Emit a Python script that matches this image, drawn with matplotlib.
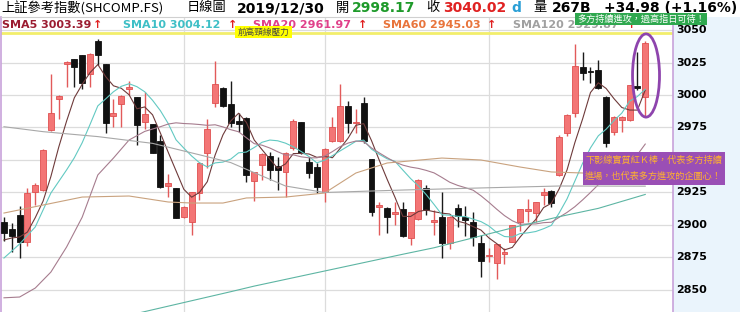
import numpy as np
import pandas as pd
import matplotlib
matplotlib.use("Agg")
import matplotlib.pyplot as plt
from matplotlib.patches import Rectangle, Ellipse

# SHCOMP daily candles up to 2019/12/30
opens = [2902.5, 2896.9, 2907.7, 2887.2, 2925.6, 2926.9, 2973.1, 2996.7, 3024.1, 3027.5,
         3030.5, 3016.2, 3041.8, 3023.8, 2984.1, 2993.1, 3004.6, 2998.2, 2979.5, 2977.5,
         2964.6, 2930.0, 2928.2, 2905.9, 2902.5, 2924.4, 2955.2, 2994.1, 3005.6, 2992.8,
         2980.2, 2982.5, 2934.1, 2946.2, 2953.1, 2945.4, 2940.5, 2959.0, 2979.0, 2948.7,
         2944.8, 2925.2, 2964.8, 2964.8, 2991.5, 2978.5, 2994.1, 2950.5, 2913.6, 2913.3,
         2908.5, 2912.1, 2890.2, 2904.4, 2928.2, 2902.5, 2906.4, 2885.9, 2912.8, 2905.9,
         2902.5, 2886.4, 2875.8, 2870.5, 2877.7, 2887.2, 2902.5, 2910.8, 2909.5, 2923.1,
         2926.4, 2938.5, 2970.5, 2985.9, 3021.8, 3018.8, 3019.2, 2998.7, 2971.8, 2980.8,
         2980.8, 3006.9, 2998.17]
highs = [2906.4, 2901.5, 2914.6, 2928.5, 2932.3, 2958.5, 3016.2, 3000.0, 3026.2, 3027.8,
         3030.8, 3032.5, 3042.8, 3024.0, 2996.7, 2999.7, 3011.0, 2998.4, 3002.5, 2978.0,
         2969.2, 2939.2, 2928.5, 2914.5, 2925.5, 2948.5, 2981.5, 3026.4, 3006.0, 3010.8,
         2986.4, 2983.0, 2941.0, 2955.0, 2956.4, 2952.5, 2956.4, 2981.3, 2979.5, 2952.5,
         2947.7, 2959.0, 2982.8, 3008.5, 2995.6, 2989.0, 2998.7, 2951.0, 2917.9, 2913.5,
         2917.9, 2917.9, 2910.0, 2935.0, 2930.8, 2911.5, 2925.2, 2907.0, 2915.9, 2914.6,
         2910.2, 2892.3, 2882.3, 2885.5, 2882.3, 2900.3, 2912.6, 2920.0, 2918.0, 2928.2,
         2926.8, 2969.2, 2985.0, 3039.2, 3033.3, 3021.8, 3026.9, 2999.0, 2984.0, 2984.0,
         3008.0, 3033.3, 3041.4]
lows = [2887.7, 2879.2, 2874.6, 2884.1, 2915.4, 2926.0, 2972.5, 2981.5, 3006.4, 3005.9,
        3004.4, 3005.9, 3023.1, 2970.5, 2975.6, 2975.6, 3000.0, 2961.5, 2973.8, 2955.0,
        2928.8, 2921.3, 2905.0, 2905.5, 2892.3, 2919.2, 2943.8, 2990.5, 2991.0, 2975.6,
        2971.8, 2933.1, 2918.5, 2934.6, 2934.6, 2926.9, 2921.8, 2957.7, 2954.8, 2936.2,
        2924.4, 2917.9, 2964.0, 2964.0, 2970.5, 2970.5, 2963.3, 2907.2, 2892.3, 2894.1,
        2900.0, 2891.0, 2884.6, 2904.0, 2907.7, 2892.3, 2874.4, 2881.3, 2898.7, 2891.5,
        2883.8, 2859.8, 2871.5, 2858.2, 2870.0, 2886.9, 2895.6, 2902.5, 2902.5, 2915.4,
        2914.1, 2938.0, 2968.5, 2982.8, 3011.5, 3009.0, 3005.0, 2960.2, 2969.2, 2971.8,
        2980.0, 3004.0, 2983.34]
closes = [2894.1, 2891.5, 2886.9, 2924.8, 2930.8, 2957.7, 2986.4, 2999.5, 3024.6, 3021.3,
          3009.0, 3031.5, 3030.8, 2978.2, 2985.9, 2999.5, 3006.4, 2976.9, 2985.4, 2955.6,
          2929.5, 2932.5, 2905.6, 2914.1, 2925.2, 2947.9, 2973.8, 3008.2, 2991.5, 2978.7,
          2977.7, 2938.5, 2940.5, 2954.4, 2942.3, 2942.3, 2955.4, 2980.2, 2955.2, 2940.0,
          2929.5, 2958.5, 2975.6, 2991.5, 2978.7, 2979.2, 2964.8, 2910.2, 2915.4, 2905.9,
          2910.2, 2891.5, 2909.8, 2934.6, 2911.5, 2903.8, 2885.9, 2906.4, 2907.2, 2903.8,
          2890.5, 2872.5, 2876.6, 2885.2, 2879.5, 2900.0, 2912.3, 2912.0, 2917.5, 2925.2,
          2916.7, 2967.9, 2984.6, 3022.3, 3017.2, 3017.6, 3005.2, 2962.8, 2983.3, 2983.1,
          3007.7, 3005.04, 3040.02]

# moving-average values before a full window is on the chart
sma5_head_idx = [0, 1, 2, 3]
sma5_head = [2888.5, 2890.0, 2890.8, 2894.6]
sma10_head_idx = [0, 2, 4, 6, 8]
sma10_head = [2874.6, 2885.4, 2898.5, 2924.6, 2942.3]
sma20_head_idx = [0, 2, 4, 6, 8, 10, 12, 14, 16, 18]
sma20_head = [2844.0, 2844.6, 2851.5, 2863.8, 2883.0, 2906.0, 2938.5, 2951.5, 2965.4, 2972.0]

# long averages
sma60_idx = [0, 10, 16, 21, 24, 28, 31, 36, 41, 45, 49, 56, 61, 66, 70, 74, 82]
sma60 = [2909.2, 2921.5, 2922.3, 2917.7, 2916.9, 2916.9, 2920.8, 2921.5, 2924.6, 2940.0,
         2947.7, 2951.5, 2950.0, 2944.6, 2940.8, 2940.0, 2945.03]
sma120_idx = [0, 5, 12, 19, 25, 29, 36, 41, 51, 61, 71, 82]
sma120 = [2975.6, 2971.8, 2968.0, 2962.8, 2954.0, 2948.0, 2930.0, 2925.0, 2926.9, 2928.5,
          2930.0, 2929.87]
yearline_idx = [17, 29, 32, 51, 55, 66, 71, 76, 82]
yearline = [2832.0, 2848.7, 2853.0, 2877.5, 2882.5, 2899.3, 2906.4, 2912.8, 2923.5]

month_start_idx = [23, 41, 62]
yticks = [2850, 2875, 2900, 2925, 2950, 2975, 3000, 3025, 3050]
neckline = 3047.6

legend = [("SMA5 3003.39", "#9B1B30", 2, 93),
          ("SMA10 3004.12", "#3EBFC6", 123, 228),
          ("SMA20 2961.97", "#E0408A", 253, 358),
          ("SMA60 2945.03", "#E8743B", 383, 487),
          ("SMA120 2929.87", "#A0A0A0", 513, 627)]

W, H = 740, 312
cjk = ['Noto Sans CJK TC', 'DejaVu Sans']


def fx(x):
    return x / W


def fy(y):
    return 1 - y / H


fig = plt.figure(figsize=(W / 100, H / 100), dpi=100)
fig.patches.append(Rectangle((fx(673), 0), 1 - fx(673), fy(17), transform=fig.transFigure,
                             facecolor="#EAF4FC", edgecolor="none", zorder=-1))

ax = fig.add_axes([fx(1), 0, fx(673) - fx(1), fy(17)])
ax.set_xlim(-0.38, 85.55)
ax.set_ylim(3050 - 282 / 1.3, 3050 + 13 / 1.3)
ax.set_xticks([])
ax.set_yticks([])
for s in ["left", "right"]:
    ax.spines[s].set_color("#C8A2DA")
    ax.spines[s].set_linewidth(1.2)
ax.spines["top"].set_color("#D0D0D0")
ax.spines["bottom"].set_visible(False)

for v in yticks:
    ax.axhline(v, color="#DCDCDC", lw=0.9, zorder=0)
    ax.text(1.0045, v, str(v), transform=ax.get_yaxis_transform(), fontsize=8,
            fontweight="bold", va="center", ha="left", clip_on=False)
for i in month_start_idx:
    ax.axvline(i, color="#DCDCDC", lw=0.9, zorder=0)

ax.axhline(neckline, color="#F2EE6B", lw=2, zorder=1)

# candles
o = np.array(opens)
c = np.array(closes)
idx = np.arange(len(o))
up = c >= o
body_lo = np.minimum(o, c)
body_h = np.maximum(np.abs(c - o), 0.9)
wick_col = np.where(up, "#E25A5A", "#1A1A1A")
ax.vlines(idx, lows, highs, colors=wick_col, lw=1, zorder=2)
ax.bar(idx[up], body_h[up], bottom=body_lo[up], width=0.76, color="#F37575",
       edgecolor="#E05050", lw=0.6, zorder=3)
ax.bar(idx[~up], body_h[~up], bottom=body_lo[~up], width=0.76, color="#111111",
       edgecolor="#111111", lw=0.6, zorder=3)

# moving averages
cs = pd.Series(closes)


def ma_line(n, head_idx, head):
    r = cs.rolling(n).mean()
    xs = list(head_idx) + list(range(n - 1, len(cs)))
    ys = list(head) + list(r.iloc[n - 1:])
    return xs, ys


for n, hi, hv, col in [(5, sma5_head_idx, sma5_head, "#6E3A3A"),
                       (10, sma10_head_idx, sma10_head, "#62C9C2"),
                       (20, sma20_head_idx, sma20_head, "#A67C8E")]:
    xs, ys = ma_line(n, hi, hv)
    ax.plot(xs, ys, color=col, lw=0.8, zorder=4)
ax.plot(sma60_idx, sma60, color="#C9A27E", lw=0.8, zorder=4)
ax.plot(sma120_idx, sma120, color="#A8A8A8", lw=0.8, zorder=4)
ax.plot(yearline_idx, yearline, color="#5DB5A3", lw=0.8, zorder=4)

ax.add_patch(Ellipse((82.1, 3015), 3.45, 64, fill=False, edgecolor="#8E44AD", lw=2,
                     zorder=6))

# header line
hy = fy(8)
fig.text(fx(1), hy, "上証參考指數(SHCOMP.FS)", family=cjk, fontsize=9.5, va="center")
fig.text(fx(187), hy, "日線圖", family=cjk, fontsize=9.5, va="center")
fig.text(fx(237), hy, "2019/12/30", fontsize=10, fontweight="bold", va="center")
fig.text(fx(336), hy, "開", family=cjk, fontsize=9.5, va="center")
fig.text(fx(352), hy, "2998.17", fontsize=10, fontweight="bold", color="#1E9A2A", va="center")
fig.text(fx(426), hy, "收", family=cjk, fontsize=9.5, va="center")
fig.text(fx(443), hy, "3040.02", fontsize=10, fontweight="bold", color="#E02222", va="center")
fig.text(fx(511), hy, "d", fontsize=10, fontweight="bold", color="#2A9FD6", va="center")
fig.text(fx(533), hy, "量", family=cjk, fontsize=9.5, va="center")
fig.text(fx(552), hy, "267B", fontsize=10, fontweight="bold", va="center")
fig.text(fx(604), hy, "+34.98 (+1.16%)", fontsize=10, fontweight="bold", va="center")

# legend row
ly = fy(25)
for label, col, x0, xa in legend:
    fig.text(fx(x0), ly, label, fontsize=8, fontweight="bold", color=col, va="center")
    fig.text(fx(xa), ly, "↑", fontsize=8, fontweight="bold", color="#E02020", va="center")

# annotation boxes
fig.patches.append(Rectangle((fx(235), fy(38)), fx(57), 12 / H, transform=fig.transFigure,
                             facecolor="#FFFF00", edgecolor="none", zorder=5))
fig.text(fx(263.5), fy(32), "前高頸線壓力", family=cjk, fontsize=6.2, color="#444444",
         ha="center", va="center", zorder=6)

fig.patches.append(Rectangle((fx(575), fy(25)), fx(132), 12 / H, transform=fig.transFigure,
                             facecolor="#2FA84F", edgecolor="none", zorder=5))
fig.text(fx(641), fy(19), "多方持續進攻，過高指日可待！", family=cjk, fontsize=6.6,
         color="white", ha="center", va="center", zorder=6)

fig.patches.append(Rectangle((fx(583), fy(185)), fx(142), 33 / H, transform=fig.transFigure,
                             facecolor="#9A4FB5", edgecolor="none", zorder=5))
fig.text(fx(585), fy(160), "下影線實質紅Ｋ棒，代表多方持續", family=cjk, fontsize=6.6,
         color="#FFB22E", ha="left", va="center", zorder=6)
fig.text(fx(585), fy(176), "進場，也代表多方進攻的企圖心！", family=cjk, fontsize=6.6,
         color="#FFB22E", ha="left", va="center", zorder=6)

fig.savefig("out.png", dpi=100)
